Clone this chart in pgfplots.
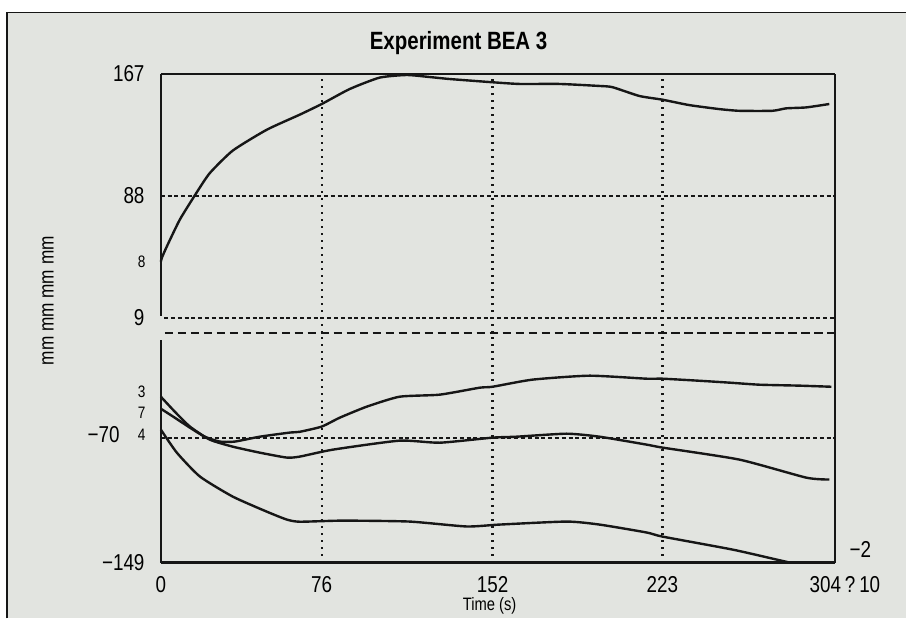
\documentclass[border=0pt]{standalone}
\usepackage{fontspec}
\setmainfont{Liberation Sans}[FakeStretch=0.82]
\usepackage{pgfplots}
\pgfplotsset{compat=1.18}
\definecolor{paper}{RGB}{226,228,224}
\definecolor{ink}{RGB}{22,22,22}
\tikzset{
  gridv/.style={ink, line width=1.15pt, dash pattern=on 0.9pt off 2.6pt},
  gridh/.style={ink, line width=1pt, dash pattern=on 2pt off 1.4pt},
  curve/.style={ink, line width=1.2pt, smooth, tension=0.35},
}
\newcommand{\tickfont}{\fontsize{11.5}{12}\selectfont}
\newcommand{\smallfont}{\fontsize{8.3}{9}\selectfont}
\begin{document}
\begin{tikzpicture}[x=1pt,y=1pt]
\fill[white] (0,0) rectangle (453.5,309.5);
\fill[paper] (3.5,0) rectangle (453.5,303.2);
\draw[ink,line width=0.8pt] (3.5,0) -- (3.5,303.2) -- (453.5,303.2);

% ---------------- top panel ----------------
\begin{axis}[
  at={(80.5pt,143pt)}, anchor=south west, scale only axis,
  width=337.5pt, height=129.5pt,
  xmin=0, xmax=304, ymin=-0.71, ymax=167,
  axis line style={draw=none},
  major tick length=0pt,
  xtick={72.5,149.5,226.1}, xticklabels={},
  xmajorgrids=true, ymajorgrids=false,
  major grid style={gridv},
  ytick={9,88,167}, yticklabels={9,88,167},
  yticklabel style={anchor=east, inner sep=0pt, xshift=-8pt, font=\tickfont},
  clip=false,
]
\draw[ink,line width=1.3pt] (axis cs:0,167) -- (axis cs:304,167);
\draw[ink,line width=1.2pt] (axis cs:0,10.3) -- (axis cs:0,167);
\draw[ink,line width=1.2pt] (axis cs:304,-0.71) -- (axis cs:304,167);
\draw[gridh] (axis cs:0,88) -- (axis cs:304,88);
\draw[gridh] (axis cs:1.5,9) -- (axis cs:304,9);
\addplot[curve] table[row sep=\\] {
x y\\
0 45.4\\
0.5 48.0\\
2.7 55.2\\
8.6 72.7\\
16.2 90.3\\
22.1 102.8\\
32.4 117.3\\
47.7 130.8\\
62.6 140.6\\
72.5 147.5\\
85.1 157.2\\
98.6 164.6\\
110.8 166.3\\
121.1 165.0\\
130.2 163.7\\
149.5 161.6\\
161.7 160.5\\
179.7 160.5\\
197.7 159.2\\
203.6 158.4\\
215.7 152.7\\
226.1 150.3\\
238.2 146.8\\
251.8 144.2\\
260.8 143.1\\
275.6 143.1\\
281.9 144.7\\
290.9 145.3\\
301.3 147.5\\
};
\node[anchor=east, inner sep=0pt, xshift=-7.5pt, font=\smallfont] at (axis cs:0,45.4) {8};
\end{axis}

% ---------------- bottom panel ----------------
\begin{axis}[
  at={(80.5pt,28pt)}, anchor=south west, scale only axis,
  width=337.5pt, height=115pt,
  xmin=0, xmax=304, ymin=-149, ymax=-3.6,
  axis line style={draw=none},
  major tick length=0pt,
  xtick={72.5,149.5,226.1}, xticklabels={76,152,223},
  extra x ticks={0}, extra x tick labels={0},
  extra x tick style={grid=none},
  xticklabel style={anchor=north, inner sep=0pt, yshift=-7pt, font=\tickfont},
  xmajorgrids=true, ymajorgrids=false,
  major grid style={gridv},
  ytick={-149}, yticklabels={−149},
  yticklabel style={anchor=east, inner sep=0pt, xshift=-8pt, font=\tickfont},
  clip=false,
]
\draw[ink,line width=1.2pt, dash pattern=on 4.2pt off 2.3pt] (axis cs:1.8,-3.6) -- (axis cs:304,-3.6);
\draw[ink,line width=1.2pt] (axis cs:0,-149) -- (axis cs:0,-8.0);
\draw[ink,line width=1.2pt] (axis cs:304,-149) -- (axis cs:304,-3.6);
\draw[ink,line width=1.3pt] (axis cs:0,-149) -- (axis cs:304,-149);
\draw[gridh] (axis cs:0,-70) -- (axis cs:304,-70);
\addplot[curve] table[row sep=\\] {
x y\\
0 -51.7\\
6.3 -57.4\\
13.1 -63.7\\
19.8 -69.4\\
26.6 -72.5\\
33.3 -72.5\\
44.6 -69.4\\
58.1 -66.8\\
62.6 -66.3\\
72.5 -63.0\\
80.6 -57.4\\
92.8 -50.4\\
107.6 -44.1\\
125.7 -42.8\\
143.7 -38.4\\
149.5 -37.8\\
167.5 -33.3\\
193.2 -30.8\\
218.9 -32.7\\
226.1 -32.7\\
242.7 -34.0\\
256.3 -35.2\\
269.8 -36.5\\
287.8 -37.1\\
302.2 -37.8\\
};
\addplot[curve] table[row sep=\\] {
x y\\
0 -44.1\\
6.3 -53.6\\
13.1 -63.0\\
22.1 -71.3\\
32.4 -75.7\\
44.6 -79.5\\
56.7 -82.6\\
62.6 -82.0\\
77.5 -77.6\\
107.6 -71.9\\
125.7 -73.2\\
149.5 -70.0\\
160.3 -69.4\\
182.9 -67.5\\
197.7 -69.4\\
218.9 -74.4\\
226.1 -76.3\\
260.8 -83.9\\
290.9 -95.3\\
301.3 -96.5\\
};
\addplot[curve] table[row sep=\\] {
x y\\
0 -64.9\\
7.2 -79.5\\
17.6 -94.6\\
32.4 -107.3\\
47.7 -116.8\\
56.7 -121.8\\
62.6 -123.2\\
82.0 -122.5\\
112.1 -123.1\\
137.8 -126.2\\
152.7 -125.0\\
182.9 -123.1\\
197.7 -125.0\\
218.9 -130.0\\
226.1 -132.6\\
257.6 -140.8\\
277.4 -147.1\\
283.3 -149\\
};
\node[anchor=east, inner sep=0pt, xshift=-7.5pt, font=\smallfont] at (axis cs:0,-40.9) {3};
\node[anchor=east, inner sep=0pt, xshift=-7.5pt, font=\smallfont] at (axis cs:0,-54.2) {7};
\node[anchor=east, inner sep=0pt, xshift=-7.5pt, font=\smallfont] at (axis cs:0,-68.1) {4};
\node[anchor=east, inner sep=0pt, xshift=-20.5pt, yshift=1.5pt, font=\tickfont] at (axis cs:0,-70) {−70};
\node[anchor=west, inner sep=0pt, xshift=7pt, font=\tickfont] at (axis cs:304,-140.8) {−2};
\end{axis}

% ---------------- texts ----------------
\node[anchor=base, inner sep=0pt, font=\fontsize{12.5}{13}\selectfont\bfseries] at (229.5,284.5) {Experiment BEA 3};
\node[anchor=base west, inner sep=0pt, font=\tickfont] at (405,13) {304\,?\,10};
\node[anchor=base, inner sep=0pt, font=\fontsize{9}{10}\selectfont] at (245,4) {Time (s)};
\node[rotate=90, inner sep=0pt, font=\fontsize{10.5}{11}\selectfont] at (24,159) {mm mm mm mm};
\end{tikzpicture}
\end{document}
